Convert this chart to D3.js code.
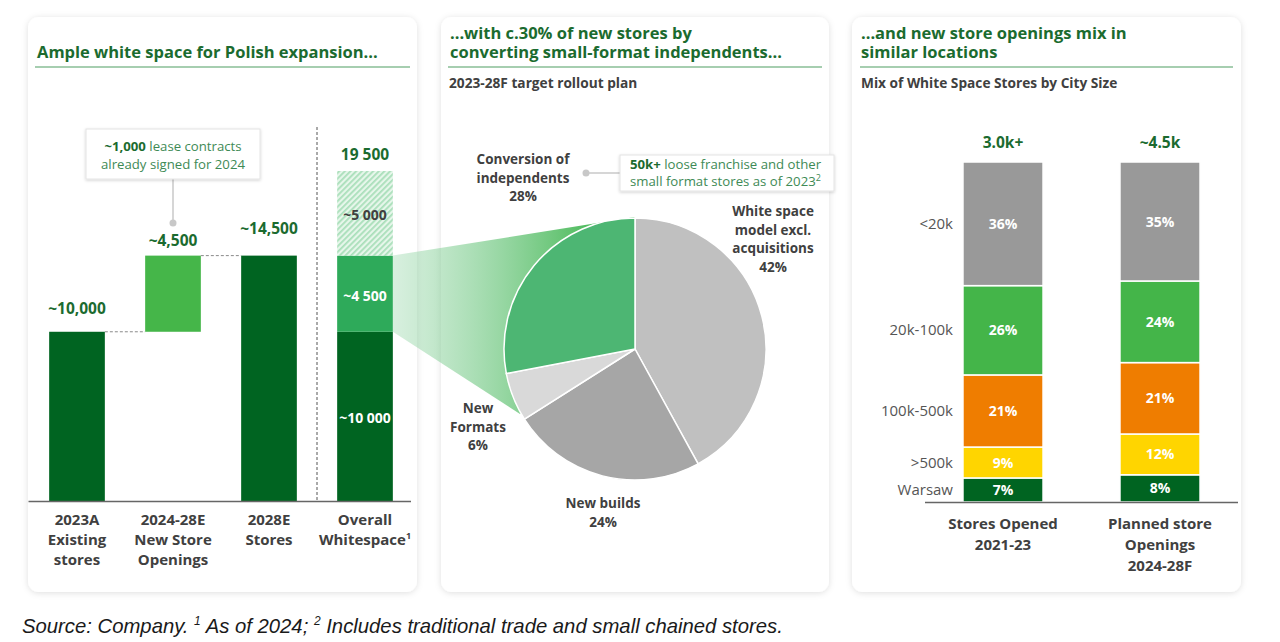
<!DOCTYPE html>
<html><head><meta charset="utf-8">
<script src="https://cdn.jsdelivr.net/npm/d3@7"></script>
<style>
html,body{margin:0;padding:0;background:#fff;}
svg{display:block;font-family:"Open Sans",sans-serif;}
</style></head>
<body>
<svg id="c" width="1280" height="642"></svg>
<script>
// ---------- DATA ----------
const leftCategories = [["2023A","Existing","stores"],["2024-28E","New Store","Openings"],["2028E","Stores"],["Overall","Whitespace¹"]];
const leftBase = [0, 10000, 0];
const leftValues = [10000, 4500, 14500];
const leftValueLabels = ["~10,000","~4,500","~14,500"];
const whitespaceSegments = [10000, 4500, 5000];
const whitespaceLabels = ["~10 000","~4 500","~5 000"];
const whitespaceTotalLabel = "19 500";

const pieCategories = ["White space model excl. acquisitions","New builds","New Formats","Conversion of independents"];
const pieValues = [42, 24, 6, 28];

const cityCategories = ["Warsaw", ">500k", "100k-500k", "20k-100k", "<20k"];
const storesOpened = [7, 9, 21, 26, 36];
const plannedOpenings = [8, 12, 21, 24, 35];
const rightBarLabels = [["Stores Opened","2021-23"],["Planned store","Openings","2024-28F"]];
const rightTotals = ["3.0k+","~4.5k"];

// ---------- SETUP ----------
const svg = d3.select("#c");
const defs = svg.append("defs");
const sh = defs.append("filter").attr("id","sh").attr("x","-5%").attr("y","-5%").attr("width","110%").attr("height","110%");
sh.append("feDropShadow").attr("dx",0).attr("dy",1).attr("stdDeviation",3).attr("flood-color","#000").attr("flood-opacity",0.13);
const bsh = defs.append("filter").attr("id","bsh").attr("x","-10%").attr("y","-20%").attr("width","120%").attr("height","140%");
bsh.append("feDropShadow").attr("dx",0).attr("dy",1).attr("stdDeviation",1.5).attr("flood-color","#000").attr("flood-opacity",0.18);

const hatch = defs.append("pattern").attr("id","hatch").attr("patternUnits","userSpaceOnUse")
  .attr("width",4).attr("height",4).attr("patternTransform","rotate(45)");
hatch.append("rect").attr("width",4).attr("height",4).attr("fill","#e6f6ea");
hatch.append("rect").attr("width",1.8).attr("height",4).attr("fill","#a9dfba");

const grad = defs.append("linearGradient").attr("id","fan").attr("gradientUnits","userSpaceOnUse")
  .attr("x1",393).attr("y1",0).attr("x2",610).attr("y2",0);
grad.append("stop").attr("offset","0").attr("stop-color","#8fd3a3").attr("stop-opacity",0.35);
grad.append("stop").attr("offset","1").attr("stop-color","#3cb44b").attr("stop-opacity",1);

const GREEN_T = "#1b6b2f", DARK = "#404040";

// panels
const panels = [[28,17,389,575],[441,17,388,575],[852,17,389,575]];
svg.selectAll("rect.panel").data(panels).join("rect").attr("class","panel")
  .attr("x",d=>d[0]).attr("y",d=>d[1]).attr("width",d=>d[2]).attr("height",d=>d[3])
  .attr("rx",11).attr("fill","#fff").attr("filter","url(#sh)");

function title(x, y, lines){
  lines.forEach((l,i)=>svg.append("text").attr("x",x).attr("y",y+i*19).attr("fill",GREEN_T)
    .attr("font-size",16.5).attr("font-weight",700).text(l));
}
title(37, 58, ["Ample white space for Polish expansion..."]);
title(450, 39, ["...with c.30% of new stores by","converting small-format independents..."]);
title(861, 39, ["...and new store openings mix in","similar locations"]);
[[35,410],[448,822],[860,1233]].forEach(d=>{
  svg.append("line").attr("x1",d[0]).attr("x2",d[1]).attr("y1",67).attr("y2",67)
    .attr("stroke","#4f9e62").attr("stroke-width",1.2);
});
svg.append("text").attr("x",449).attr("y",88).attr("font-size",13.7).attr("font-weight",700).attr("fill",DARK).text("2023-28F target rollout plan");
svg.append("text").attr("x",861).attr("y",88).attr("font-size",13.7).attr("font-weight",700).attr("fill",DARK).text("Mix of White Space Stores by City Size");

// ---------- LEFT PANEL ----------
const xL = d3.scaleBand().domain(d3.range(4)).range([29,413]).paddingInner(0.42).paddingOuter(0.21);
const yL = d3.scaleLinear().domain([0,19500]).range([501,171]);
const leftColors = ["#006421","#45b649","#006421"];
const leftLabelGap = [18, 10, 22];
const gL = svg.append("g");

// dashed connectors
[[0,1,leftValues[0]],[1,2,leftBase[1]+leftValues[1]]].forEach(([a,b,v])=>{
  gL.append("line").attr("x1",xL(a)+xL.bandwidth()).attr("x2",xL(b)).attr("y1",yL(v)).attr("y2",yL(v))
    .attr("stroke","#8a8a8a").attr("stroke-width",1).attr("stroke-dasharray","3,2");
});
gL.selectAll("rect.lb").data(leftValues).join("rect").attr("class","lb")
  .attr("x",(d,i)=>xL(i)).attr("width",xL.bandwidth())
  .attr("y",(d,i)=>yL(leftBase[i]+d)).attr("height",(d,i)=>yL(leftBase[i])-yL(leftBase[i]+d))
  .attr("fill",(d,i)=>leftColors[i]);
gL.selectAll("text.lv").data(leftValues).join("text").attr("class","lv")
  .attr("x",(d,i)=>xL(i)+xL.bandwidth()/2).attr("y",(d,i)=>yL(leftBase[i]+d)-leftLabelGap[i])
  .attr("text-anchor","middle").attr("font-size",15.5).attr("font-weight",700).attr("fill",GREEN_T)
  .text((d,i)=>leftValueLabels[i]);

// whitespace stacked bar
let cum = 0;
const wsColors = ["#006421","#2eaa5a","url(#hatch)"];
const wsText = ["#fff","#fff","#404040"];
whitespaceSegments.forEach((v,i)=>{
  const y0 = yL(cum), y1 = yL(cum+v);
  gL.append("rect").attr("x",xL(3)).attr("width",xL.bandwidth()).attr("y",y1).attr("height",y0-y1).attr("fill",wsColors[i]);
  cum += v;
});
const fanTop = yL(whitespaceSegments[0]+whitespaceSegments[1]), fanBot = yL(whitespaceSegments[0]);
const xr = xL(3)+xL.bandwidth();

// separator
gL.append("line").attr("x1",317).attr("x2",317).attr("y1",127).attr("y2",501)
  .attr("stroke","#555").attr("stroke-width",1).attr("stroke-dasharray","3,2");
// axis
const axL = gL.append("g").attr("transform","translate(0,501)")
  .call(d3.axisBottom(xL).tickSize(0).tickFormat(""));
axL.select(".domain").attr("d","M28.5,0.5H411").attr("stroke","#666").attr("stroke-width",1.5);

// category labels
leftCategories.forEach((lines,i)=>{
  const t = gL.append("text").attr("x",xL(i)+xL.bandwidth()/2).attr("y",525)
    .attr("text-anchor","middle").attr("font-size",15).attr("font-weight",700).attr("fill",DARK);
  lines.forEach((l,j)=>{
    const ts = t.append("tspan").attr("x",xL(i)+xL.bandwidth()/2).attr("dy", j?20:0);
    if (l.endsWith("¹")) { ts.text(l.slice(0,-1)); ts.append("tspan").attr("font-size",9).attr("dy",-6).text("1"); }
    else ts.text(l);
  });
});

// callout
gL.append("line").attr("x1",173).attr("x2",173).attr("y1",179).attr("y2",223).attr("stroke","#c8c8c8").attr("stroke-width",1.5);
gL.append("circle").attr("cx",173).attr("cy",223).attr("r",3.5).attr("fill","#c8c8c8");
gL.append("rect").attr("x",86).attr("y",129).attr("width",174).attr("height",50).attr("fill","#fff")
  .attr("stroke","#e4e4e4").attr("filter","url(#bsh)");
const ct = gL.append("text").attr("x",173).attr("y",151).attr("text-anchor","middle").attr("font-size",13.2).attr("fill","#3e8a55");
ct.append("tspan").attr("font-weight",700).attr("fill",GREEN_T).text("~1,000");
ct.append("tspan").text(" lease contracts");
gL.append("text").attr("x",173).attr("y",169).attr("text-anchor","middle").attr("font-size",13.2).attr("fill","#3e8a55").text("already signed for 2024");

// ---------- MIDDLE PANEL (pie) ----------
const cx = 635, cy = 349, R = 131;
svg.append("path").attr("d",`M${xr},${fanTop}L${cx},${cy-R-1}L${cx},${cy}L520,414L${xr},${fanBot}Z`).attr("fill","url(#fan)");
cum = 0;
whitespaceSegments.forEach((v,i)=>{
  const ym = (yL(cum)+yL(cum+v))/2;
  gL.append("text").attr("x",xL(3)+xL.bandwidth()/2).attr("y",ym+7).attr("text-anchor","middle")
    .attr("font-size",14).attr("font-weight",700).attr("fill",wsText[i]).text(whitespaceLabels[i]);
  cum += v;
});
gL.append("text").attr("x",xL(3)+xL.bandwidth()/2).attr("y",yL(cum)-11).attr("text-anchor","middle")
  .attr("font-size",15.5).attr("font-weight",700).attr("fill",GREEN_T).text(whitespaceTotalLabel);

const pieColors = ["#c0c0c0","#a6a6a6","#d9d9d9","#4db673"];
const arcs = d3.pie().sort(null)(pieValues);
const arcGen = d3.arc().innerRadius(0).outerRadius(R);
const gP = svg.append("g").attr("transform",`translate(${cx},${cy})`);
gP.selectAll("path").data(arcs).join("path").attr("d",arcGen)
  .attr("fill",(d,i)=>pieColors[i]).attr("stroke","#fff").attr("stroke-width",1.5);

const pieLabelPos = [[773,216,["White space","model excl.","acquisitions"]],[603,508,["New builds"]],[478,413,["New","Formats"]],[523,164,["Conversion of","independents"]]];
pieLabelPos.forEach(([x,y,lines],i)=>{
  const t = svg.append("text").attr("x",x).attr("y",y).attr("text-anchor","middle").attr("font-size",13.5).attr("font-weight",700).attr("fill",DARK);
  lines.concat([pieValues[i]+"%"]).forEach((l,j)=>t.append("tspan").attr("x",x).attr("dy",j?18.7:0).text(l));
});

// callout 2
svg.append("line").attr("x1",586).attr("x2",620).attr("y1",173).attr("y2",173).attr("stroke","#c8c8c8").attr("stroke-width",1.5);
svg.append("circle").attr("cx",586).attr("cy",173).attr("r",3.5).attr("fill","#c8c8c8");
svg.append("rect").attr("x",620).attr("y",155).attr("width",214).attr("height",36).attr("fill","#fff")
  .attr("stroke","#e4e4e4").attr("filter","url(#bsh)");
const c2 = svg.append("text").attr("x",630).attr("y",169).attr("font-size",13.2).attr("fill","#3e8a55");
c2.append("tspan").attr("font-weight",700).attr("fill",GREEN_T).text("50k+");
c2.append("tspan").text(" loose franchise and other");
const c3 = svg.append("text").attr("x",630).attr("y",186).attr("font-size",13.2).attr("fill","#3e8a55");
c3.append("tspan").text("small format stores as of 2023");
c3.append("tspan").attr("font-size",9).attr("dy",-5).text("2");

// ---------- RIGHT PANEL ----------
const xR = d3.scaleBand().domain([0,1]).range([924.5,1238.5]).paddingInner(0.49).paddingOuter(0.245);
const yR = d3.scaleLinear().domain([0,1]).range([502,162]);
const cityColors = ["#006421","#ffd500","#ef7d00","#44b549","#999999"];
const rightSeries = [storesOpened, plannedOpenings];
const gR = svg.append("g");
rightSeries.forEach((vals,b)=>{
  const tot = d3.sum(vals);
  let c = 0;
  vals.forEach((v,i)=>{
    const y0 = yR(c/tot), y1 = yR((c+v)/tot);
    gR.append("rect").attr("x",xR(b)).attr("width",xR.bandwidth()).attr("y",y1).attr("height",y0-y1)
      .attr("fill",cityColors[i]).attr("stroke","#fff").attr("stroke-width",1.5);
    gR.append("text").attr("x",xR(b)+xR.bandwidth()/2).attr("y",(y0+y1)/2+5).attr("text-anchor","middle")
      .attr("font-size",14).attr("font-weight",700).attr("fill","#fff").text(v+"%");
    if (b===0) {
      gR.append("text").attr("x",953).attr("y",(y0+y1)/2+5).attr("text-anchor","end")
        .attr("font-size",15).attr("fill","#555").text(cityCategories[i]);
    }
    c += v;
  });
  gR.append("text").attr("x",xR(b)+xR.bandwidth()/2).attr("y",148).attr("text-anchor","middle")
    .attr("font-size",15.5).attr("font-weight",700).attr("fill",GREEN_T).text(rightTotals[b]);
  const t = gR.append("text").attr("x",xR(b)+xR.bandwidth()/2).attr("y",529).attr("text-anchor","middle")
    .attr("font-size",15).attr("font-weight",700).attr("fill",DARK);
  rightBarLabels[b].forEach((l,j)=>t.append("tspan").attr("x",xR(b)+xR.bandwidth()/2).attr("dy",j?21:0).text(l));
});
const axR = gR.append("g").attr("transform","translate(0,502)").call(d3.axisBottom(xR).tickSize(0).tickFormat(""));
axR.select(".domain").attr("d","M925,0.5H1238").attr("stroke","#666").attr("stroke-width",1.5);

// ---------- FOOTNOTE ----------
const fn = svg.append("text").attr("x",22).attr("y",633).attr("font-family","'Liberation Sans',Arial,sans-serif")
  .attr("font-style","italic").attr("font-size",20.3).attr("fill","#1a1a1a");
fn.append("tspan").text("Source: Company. ");
fn.append("tspan").attr("font-size",12).attr("dy",-8).text("1");
fn.append("tspan").attr("dy",8).text(" As of 2024; ");
fn.append("tspan").attr("font-size",12).attr("dy",-8).text("2");
fn.append("tspan").attr("dy",8).text(" Includes traditional trade and small chained stores.");
</script>
</body></html>
